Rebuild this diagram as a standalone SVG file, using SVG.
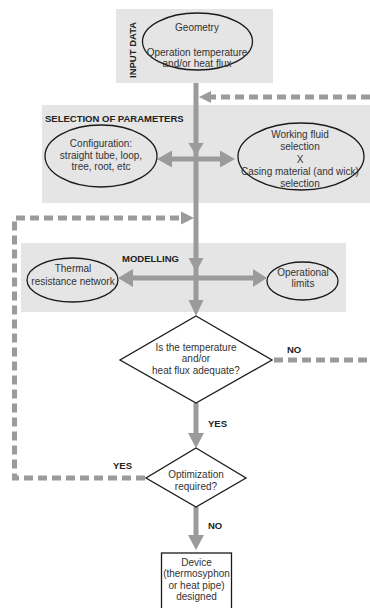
<svg xmlns="http://www.w3.org/2000/svg" width="370" height="608" viewBox="0 0 370 608">
  <style>
    .panel { fill: #e5e5e5; stroke: none; }
    .oval { fill: none; stroke: #1a1a1a; stroke-width: 1.3; }
    .shape { fill: #ffffff; stroke: #1a1a1a; stroke-width: 1.3; }
    .flow { stroke: #9b9b9b; stroke-width: 5; fill: none; }
    .head { fill: #9b9b9b; stroke: none; }
    .dash { stroke: #9b9b9b; stroke-width: 5; fill: none; stroke-dasharray: 9 5; }
    .txt { font-family: "Liberation Sans", Arial, sans-serif; font-size: 10px; fill: #333333; text-anchor: middle; }
    .lbl { font-family: "Liberation Sans", Arial, sans-serif; font-size: 9.5px; font-weight: bold; fill: #222222; }
  </style>

  <!-- panels -->
  <g id="input-data">
    <rect class="panel" x="116" y="9" width="157" height="74"/>
    <text class="lbl" transform="translate(135.5,78) rotate(-90)">INPUT DATA</text>
    <ellipse class="oval" cx="197.5" cy="41.5" rx="55" ry="28.5"/>
    <text class="txt" x="197" y="30.5">Geometry</text>
    <text class="txt" x="197" y="55.5">Operation temperature</text>
    <text class="txt" x="197" y="66.5">and/or heat flux</text>
  </g>

  <g id="selection">
    <rect class="panel" x="42" y="105" width="328" height="98"/>
    <text class="lbl" x="45" y="121.5">SELECTION OF PARAMETERS</text>
  </g>

  <g id="modelling">
    <rect class="panel" x="21" y="243" width="325" height="69"/>
    <text class="lbl" x="122" y="261.5">MODELLING</text>
  </g>

  <!-- connectors -->
  <g id="connectors">
    <!-- main trunk -->
    <line class="flow" x1="196" y1="83" x2="196" y2="302"/>
    <polygon class="head" points="188.5,143 203.5,143 196,156"/>
    <polygon class="head" points="188.5,258 203.5,258 196,272"/>
    <polygon class="head" points="188.5,300 203.5,300 196,316"/>

    <!-- selection branches -->
    <line class="flow" x1="170" y1="159" x2="222" y2="159"/>
    <polygon class="head" points="157,159 172,150.5 172,167.5"/>
    <polygon class="head" points="235,159 220,150.5 220,167.5"/>

    <!-- modelling branches -->
    <line class="flow" x1="131" y1="278" x2="255" y2="278"/>
    <polygon class="head" points="118,278 133,269 133,287"/>
    <polygon class="head" points="267,278 253,269 253,287"/>

    <!-- YES from first decision -->
    <line class="flow" x1="196" y1="403" x2="196" y2="435"/>
    <polygon class="head" points="188,433 204,433 196,448"/>

    <!-- NO from second decision -->
    <line class="flow" x1="196" y1="507" x2="196" y2="537"/>
    <polygon class="head" points="188,535 204,535 196,550"/>

    <!-- NO loop back into parameter selection -->
    <line class="dash" x1="274" y1="360" x2="370" y2="360"/>
    <line class="dash" x1="370" y1="97" x2="210" y2="97"/>
    <polygon class="head" points="199,97 211,91 211,103"/>

    <!-- YES loop back into modelling -->
    <polyline class="dash" points="145,478 14.5,478 14.5,218 182,218"/>
    <polygon class="head" points="194,218 181,211.5 181,224.5"/>
  </g>

  <!-- parameter nodes -->
  <g id="configuration">
    <ellipse class="oval" cx="101" cy="156" rx="56" ry="31"/>
    <text class="txt" x="101" y="146.5">Configuration:</text>
    <text class="txt" x="101" y="158.5">straight tube, loop,</text>
    <text class="txt" x="101" y="170">tree, root, etc</text>
  </g>

  <g id="materials">
    <ellipse class="oval" cx="301" cy="156.5" rx="63" ry="33.5"/>
    <text class="txt" x="300" y="137.5">Working fluid</text>
    <text class="txt" x="300" y="150">selection</text>
    <text class="txt" x="300" y="162.5">X</text>
    <text class="txt" x="300" y="175">Casing material (and wick)</text>
    <text class="txt" x="300" y="187">selection</text>
  </g>

  <!-- modelling nodes -->
  <g id="thermal-network">
    <ellipse class="oval" cx="72.5" cy="280" rx="45.5" ry="22"/>
    <text class="txt" x="73" y="271.5">Thermal</text>
    <text class="txt" x="73" y="284.5">resistance network</text>
  </g>

  <g id="operational-limits">
    <ellipse class="oval" cx="302.5" cy="281" rx="35.5" ry="19"/>
    <text class="txt" x="303" y="275.5">Operational</text>
    <text class="txt" x="303" y="287">limits</text>
  </g>

  <!-- decisions -->
  <g id="adequacy-check">
    <polygon class="shape" points="196,316 272,360 196,403 120,360"/>
    <text class="txt" x="196" y="350.5">Is the temperature</text>
    <text class="txt" x="196" y="361.5">and/or</text>
    <text class="txt" x="196" y="373.5">heat flux adequate?</text>
    <text class="lbl" x="287" y="352.5">NO</text>
    <text class="lbl" x="208" y="427">YES</text>
  </g>

  <g id="optimization-check">
    <polygon class="shape" points="196,448 246,478 196,507 146,478"/>
    <text class="txt" x="196" y="478">Optimization</text>
    <text class="txt" x="196" y="489.5">required?</text>
    <text class="lbl" x="113" y="468.5">YES</text>
    <text class="lbl" x="208" y="528.5">NO</text>
  </g>

  <!-- result -->
  <g id="device">
    <rect class="shape" x="161.5" y="553" width="70" height="60"/>
    <text class="txt" x="196.5" y="565.5">Device</text>
    <text class="txt" x="196.5" y="577">(thermosyphon</text>
    <text class="txt" x="196.5" y="588.5">or heat pipe)</text>
    <text class="txt" x="196.5" y="600">designed</text>
  </g>
</svg>
